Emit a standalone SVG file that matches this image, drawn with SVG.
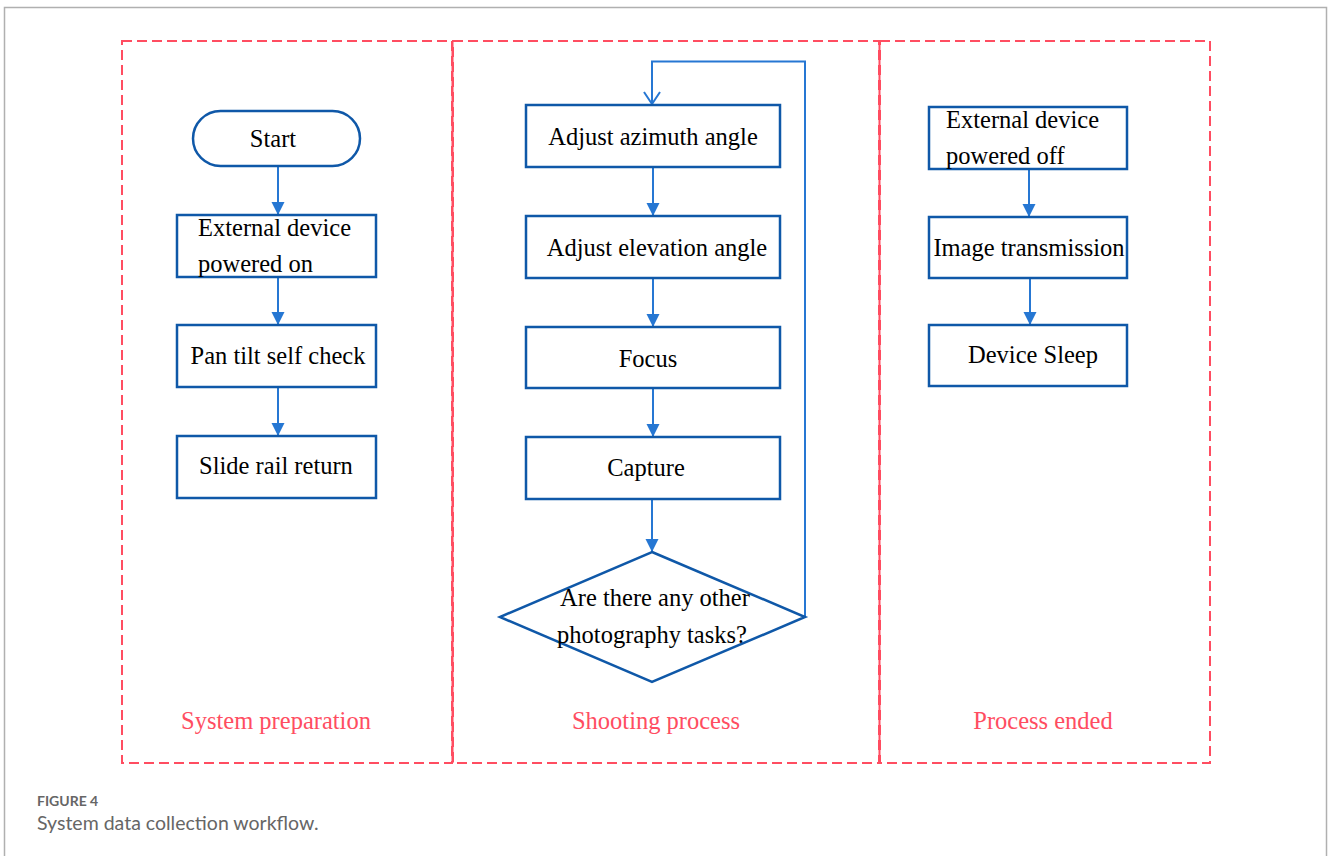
<svg xmlns="http://www.w3.org/2000/svg" width="1328" height="856" viewBox="0 0 1328 856">
<style>
.panel{fill:none;stroke:#ff4d61;stroke-width:2;stroke-dasharray:10 5}
.div{stroke:#ff4d61;stroke-width:2}
.box{fill:#fff;stroke:#0f58a8;stroke-width:2.5}
.t{font-family:"Liberation Serif","Times New Roman",serif;font-size:24.5px;fill:#000}
.lab{font-family:"Liberation Serif","Times New Roman",serif;font-size:24.5px;fill:#ff4d61;text-anchor:middle}
.c{fill:none;stroke:#2677d3;stroke-width:2}
.cap1{font-family:Lato,"Open Sans",sans-serif;font-size:14px;font-weight:bold;fill:#666}
.cap2{font-family:Lato,"Open Sans",sans-serif;font-size:19.5px;fill:#666}
</style>
<defs>
<marker id="ah" markerWidth="14" markerHeight="14" refX="13" refY="7" orient="auto" markerUnits="userSpaceOnUse">
<path d="M0,0.5 L13,7 L0,13.5 Z" fill="#2677d3"/>
</marker>
<marker id="ao" markerWidth="14" markerHeight="18" refX="13" refY="9" orient="auto" markerUnits="userSpaceOnUse">
<path d="M1,1 L13,9 L1,17" fill="none" stroke="#2677d3" stroke-width="2"/>
</marker>
</defs>
<rect x="4.5" y="7.5" width="1322" height="860" fill="#fff" stroke="#b0b0b0" stroke-width="1.5"/>
<g id="panels">
<rect class="panel" x="122" y="41" width="330" height="722"/>
<rect class="panel" x="453" y="41" width="426" height="722"/>
<rect class="panel" x="880" y="41" width="330" height="722"/>
<line class="div" x1="452.5" y1="41" x2="452.5" y2="763"/>
<line class="div" x1="879.5" y1="41" x2="879.5" y2="763"/>
<text class="lab" x="276" y="729">System preparation</text>
<text class="lab" x="656" y="729">Shooting process</text>
<text class="lab" x="1043" y="729">Process ended</text>
</g>
<g id="connectors">
<line class="c" x1="278" y1="167" x2="278" y2="215" marker-end="url(#ah)"/>
<line class="c" x1="278" y1="278" x2="278" y2="325" marker-end="url(#ah)"/>
<line class="c" x1="278" y1="388" x2="278" y2="436" marker-end="url(#ah)"/>
<line class="c" x1="653" y1="168" x2="653" y2="216" marker-end="url(#ah)"/>
<line class="c" x1="653" y1="279" x2="653" y2="327" marker-end="url(#ah)"/>
<line class="c" x1="653" y1="389" x2="653" y2="437" marker-end="url(#ah)"/>
<line class="c" x1="652" y1="500" x2="652" y2="552" marker-end="url(#ah)"/>
<polyline class="c" points="805,617 805,61.5 652,61.5 652,104" marker-end="url(#ao)"/>
<line class="c" x1="1029" y1="170" x2="1029" y2="217" marker-end="url(#ah)"/>
<line class="c" x1="1030" y1="279" x2="1030" y2="325" marker-end="url(#ah)"/>
</g>
<g id="start">
<rect class="box" x="193" y="111" width="167" height="55" rx="27.5"/>
<text class="t" x="273" y="147" text-anchor="middle">Start</text>
</g>
<g id="ext-on">
<rect class="box" x="177" y="215" width="199" height="62"/>
<text class="t" x="198" y="236">External device</text>
<text class="t" x="198" y="272">powered on</text>
</g>
<g id="pan">
<rect class="box" x="177" y="325" width="199" height="62"/>
<text class="t" x="278" y="364" text-anchor="middle">Pan tilt self check</text>
</g>
<g id="slide">
<rect class="box" x="177" y="436" width="199" height="62"/>
<text class="t" x="276" y="474" text-anchor="middle">Slide rail return</text>
</g>
<g id="azimuth">
<rect class="box" x="526" y="105" width="254" height="62"/>
<text class="t" x="653" y="145" text-anchor="middle">Adjust azimuth angle</text>
</g>
<g id="elevation">
<rect class="box" x="526" y="216" width="254" height="62"/>
<text class="t" x="657" y="256" text-anchor="middle">Adjust elevation angle</text>
</g>
<g id="focus">
<rect class="box" x="526" y="327" width="254" height="61"/>
<text class="t" x="648" y="367" text-anchor="middle">Focus</text>
</g>
<g id="capture">
<rect class="box" x="526" y="437" width="254" height="62"/>
<text class="t" x="646" y="476" text-anchor="middle">Capture</text>
</g>
<g id="decision">
<polygon class="box" points="652,552 805,617 652,682 500,617"/>
<text class="t" x="655" y="606" text-anchor="middle">Are there any other</text>
<text class="t" x="652" y="643" text-anchor="middle">photography tasks?</text>
</g>
<g id="ext-off">
<rect class="box" x="929" y="107" width="198" height="62"/>
<text class="t" x="946" y="128">External device</text>
<text class="t" x="946" y="164">powered off</text>
</g>
<g id="transmission">
<rect class="box" x="929" y="217" width="198" height="61"/>
<text class="t" x="1029" y="256" text-anchor="middle">Image transmission</text>
</g>
<g id="sleep">
<rect class="box" x="929" y="325" width="198" height="61"/>
<text class="t" x="1033" y="363" text-anchor="middle">Device Sleep</text>
</g>
<g id="caption">
<text class="cap1" x="37" y="806">FIGURE 4</text>
<text class="cap2" x="37" y="830">System data collection workflow.</text>
</g>
</svg>
